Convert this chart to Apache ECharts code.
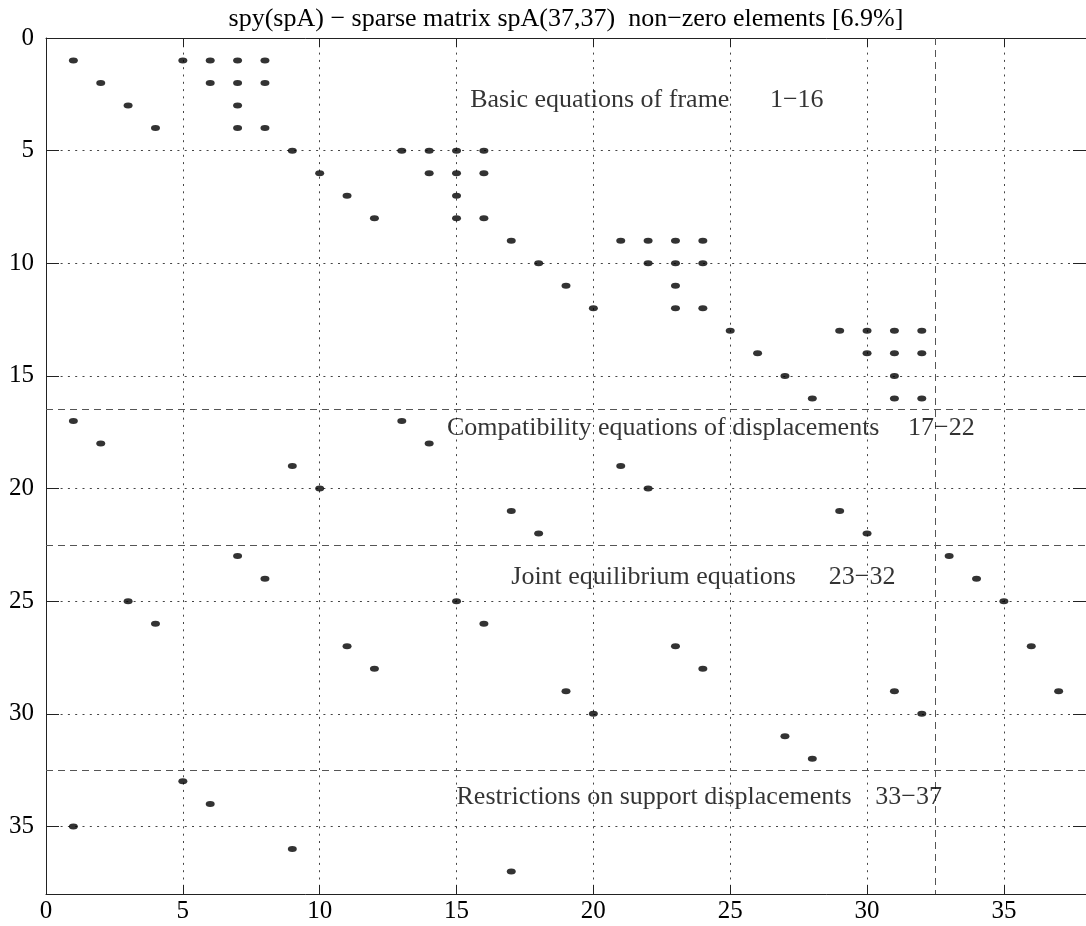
<!DOCTYPE html>
<html>
<head>
<meta charset="utf-8">
<script src="https://cdn.jsdelivr.net/npm/echarts@6/dist/echarts.min.js"></script>
<style>
  html, body { margin: 0; padding: 0; background: #ffffff; }
  #chart { width: 1086px; height: 926px; }
</style>
</head>
<body>
<div id="chart"></div>
<script>
// Column indices of the non-zero entries, one list per matrix row (rows 1..37)
const rowNonzeroCols = [
  [1, 5, 6, 7, 8],      // 1
  [2, 6, 7, 8],         // 2
  [3, 7],               // 3
  [4, 7, 8],            // 4
  [9, 13, 14, 15, 16],  // 5
  [10, 14, 15, 16],     // 6
  [11, 15],             // 7
  [12, 15, 16],         // 8
  [17, 21, 22, 23, 24], // 9
  [18, 22, 23, 24],     // 10
  [19, 23],             // 11
  [20, 23, 24],         // 12
  [25, 29, 30, 31, 32], // 13
  [26, 30, 31, 32],     // 14
  [27, 31],             // 15
  [28, 31, 32],         // 16
  [1, 13],              // 17
  [2, 14],              // 18
  [9, 21],              // 19
  [10, 22],             // 20
  [17, 29],             // 21
  [18, 30],             // 22
  [7, 33],              // 23
  [8, 34],              // 24
  [3, 15, 35],          // 25
  [4, 16],              // 26
  [11, 23, 36],         // 27
  [12, 24],             // 28
  [19, 31, 37],         // 29
  [20, 32],             // 30
  [27],                 // 31
  [28],                 // 32
  [5],                  // 33
  [6],                  // 34
  [1],                  // 35
  [9],                  // 36
  [17]                  // 37
];

const xTickLabels = [0, 5, 10, 15, 20, 25, 30, 35];
const yTickLabels = [0, 5, 10, 15, 20, 25, 30, 35];

// Boundaries between equation groups (rows) and between unknown groups (columns)
const rowGroupBounds = [16.5, 22.5, 32.5];
const colGroupBounds = [32.5];

// Equation group captions
const groupTitles = [
  'Basic equations of frame',
  'Compatibility equations of displacements',
  'Joint equilibrium equations',
  'Restrictions on support displacements'
];
const groupRanges = ['1\u221216', '17\u221222', '23\u221232', '33\u221237'];
// Caption anchors (axis units): left edge x, vertical centre y
const groupTitleX = [15.5, 14.65, 17.0, 15.0];
const groupRangeX = [26.45, 31.5, 28.6, 30.3];
const groupTitleY = [2.75, 17.3, 23.95, 33.7];

const n = rowNonzeroCols.length;
const points = [];
rowNonzeroCols.forEach((cols, i) => cols.forEach(c => points.push([c, i + 1])));
const density = (100 * points.length / (n * n)).toFixed(1);

const AXIS_MAX = 38;
const FONT = "'Liberation Serif', 'Times New Roman', serif";

const dotted = { color: '#444', width: 1, type: [2, 5.3] };
const dashed = { color: '#555', width: 1, type: [7, 5] };

const chart = echarts.init(document.getElementById('chart'), null, { renderer: 'canvas' });

const sepLines = rowGroupBounds.map(y => [
  { coord: [0, y] }, { coord: [AXIS_MAX, y] }
]).concat(colGroupBounds.map(x => [
  { coord: [x, 0] }, { coord: [x, AXIS_MAX] }
]));

const captionData = [];
groupTitles.forEach((t, i) => {
  captionData.push({ value: [groupTitleX[i], groupTitleY[i]], name: t });
  captionData.push({ value: [groupRangeX[i], groupTitleY[i]], name: groupRanges[i] });
});

function valueAxis(pos, ticks, isY, showLabels) {
  return {
    type: 'value', min: 0, max: AXIS_MAX, interval: 5, position: pos,
    inverse: isY,
    axisLine: { show: true, onZero: false, lineStyle: { color: '#222', width: 1 } },
    axisTick: {
      show: true, inside: true, length: isY ? 13 : 9,
      customValues: ticks,
      lineStyle: { color: '#222' }
    },
    axisLabel: {
      show: showLabels,
      customValues: ticks,
      fontFamily: FONT, fontSize: 25, color: '#000',
      margin: isY ? 12 : 5
    },
    splitLine: { show: showLabels, lineStyle: dotted }
  };
}

chart.setOption({
  animation: false,
  backgroundColor: '#ffffff',
  title: {
    text: 'spy(spA) \u2212 sparse matrix spA(' + n + ',' + n + ')  non\u2212zero elements [' + density + '%]',
    left: 561,
    textAlign: 'center',
    top: 1,
    textStyle: { fontFamily: FONT, fontSize: 26, fontWeight: 'normal', color: '#000' }
  },
  grid: { left: 46, top: 38, width: 1043, height: 856, containLabel: false },
  xAxis: [
    valueAxis('bottom', xTickLabels, false, true),
    valueAxis('top', xTickLabels, false, false)
  ],
  yAxis: [
    valueAxis('left', yTickLabels, true, true),
    valueAxis('right', yTickLabels, true, false)
  ],
  series: [
    {
      type: 'scatter',
      xAxisIndex: 0, yAxisIndex: 0,
      data: points,
      symbol: 'circle',
      symbolSize: [9, 6],
      itemStyle: { color: '#000' },
      silent: true,
      z: 5,
      markLine: {
        silent: true,
        symbol: ['none', 'none'],
        label: { show: false },
        lineStyle: dashed,
        data: sepLines
      }
    },
    {
      type: 'scatter',
      xAxisIndex: 0, yAxisIndex: 0,
      data: captionData,
      symbolSize: 0,
      silent: true,
      z: 6,
      label: {
        show: true,
        position: [0, 0],
        align: 'left',
        verticalAlign: 'middle',
        formatter: p => p.name,
        fontFamily: FONT,
        fontSize: 26,
        color: '#000'
      }
    }
  ]
});
</script>
</body>
</html>
